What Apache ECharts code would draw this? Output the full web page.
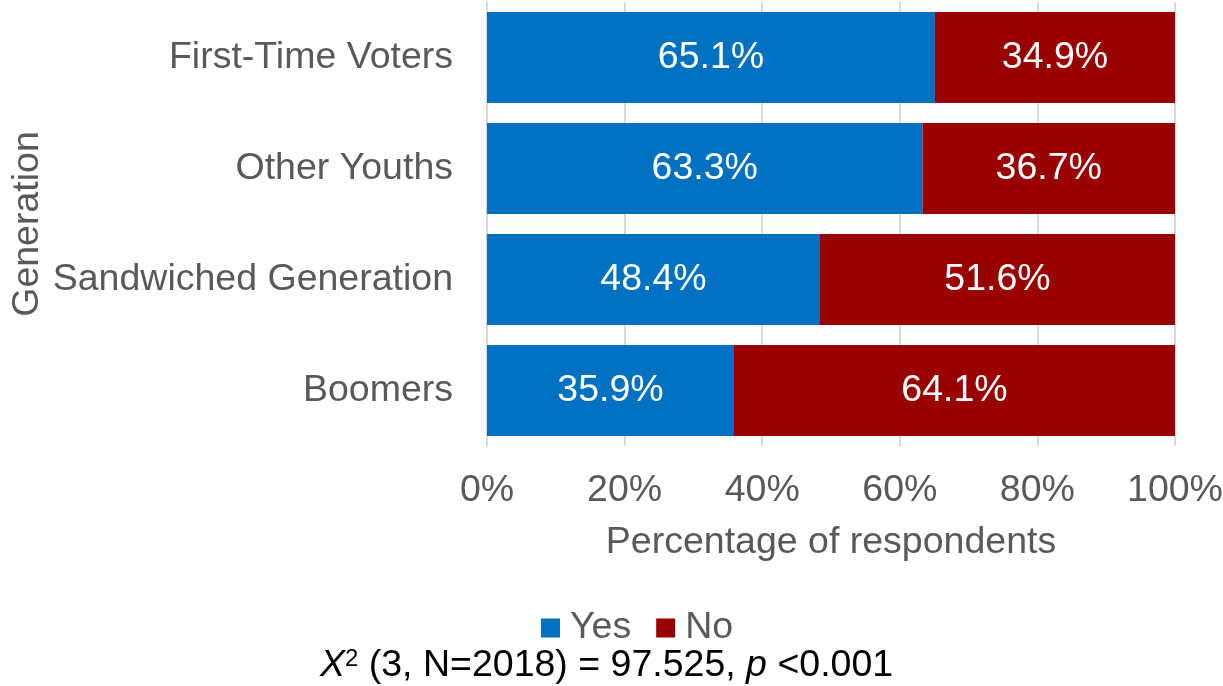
<!DOCTYPE html>
<html><head><meta charset="utf-8">
<script src="https://cdn.jsdelivr.net/npm/echarts@6/dist/echarts.min.js"></script>
<style>html,body{margin:0;padding:0;background:#fff}#c{width:1223px;height:686px}</style>
</head><body><div id="c"></div>
<script>
var categories = ['First-Time Voters', 'Other Youths', 'Sandwiched Generation', 'Boomers'];
var yesValues = [65.1, 63.3, 48.4, 35.9];
var noValues = [34.9, 36.7, 51.6, 64.1];
var xTicks = [0, 20, 40, 60, 80, 100];

var FONT = '"Liberation Sans", Arial, sans-serif';
var GREY = '#595959';
var FS = 37.5;
var chart = echarts.init(document.getElementById('c'));
chart.setOption({
  animation: false,
  textStyle: { fontFamily: FONT },
  grid: { left: 487, right: 48, top: 2, bottom: 240, containLabel: false, outerBoundsMode: 'none' },
  xAxis: {
    type: 'value', min: xTicks[0], max: xTicks[xTicks.length - 1], interval: 20,
    name: 'Percentage of respondents', nameLocation: 'middle', nameGap: 78,
    nameTextStyle: { fontSize: FS, color: GREY, fontFamily: FONT },
    axisLine: { show: false },
    axisTick: { show: false },
    splitLine: { show: true, lineStyle: { color: '#d9d9d9', width: 2 } },
    axisLabel: { formatter: '{value}%', fontSize: FS, color: GREY, margin: 26, fontFamily: FONT }
  },
  yAxis: {
    type: 'category', data: categories, inverse: true,
    name: 'Generation', nameLocation: 'middle', nameGap: 440, nameRotate: 90, nameMoveOverlap: false,
    nameTextStyle: { fontSize: FS, color: GREY, fontFamily: FONT },
    axisLine: { show: true, lineStyle: { color: '#d9d9d9', width: 2 } },
    axisTick: { show: false },
    axisLabel: { fontSize: FS, color: GREY, margin: 34, fontFamily: FONT }
  },
  legend: {
    data: ['Yes', 'No'], top: 604, left: 536,
    itemWidth: 19, itemHeight: 19, itemGap: 25, icon: 'rect',
    textStyle: { fontSize: FS, color: GREY, fontFamily: FONT, padding: [0, 0, 0, 5] }
  },
  title: {
    left: 315, top: 642,
    text: '{i|X}{sup|2}{n| (3, N=2018) = 97.525, }{i|p}{n| <0.001}',
    textStyle: {
      fontWeight: 'normal',
      rich: {
        n: { fontSize: FS, color: '#000', fontFamily: FONT, fontWeight: 'normal' },
        i: { fontSize: FS, color: '#000', fontFamily: FONT, fontStyle: 'italic', fontWeight: 'normal' },
        sup: { fontSize: 24, color: '#000', fontFamily: FONT, fontWeight: 'normal', verticalAlign: 'top', padding: [0, 0, 14, 0] }
      }
    }
  },
  series: [
    { name: 'Yes', type: 'bar', stack: 'a', data: yesValues, barCategoryGap: '18%',
      itemStyle: { color: '#0070C0' },
      label: { show: true, position: 'inside', formatter: function (p) { return p.value.toFixed(1) + '%'; }, fontSize: FS, color: '#fff', fontFamily: FONT } },
    { name: 'No', type: 'bar', stack: 'a', data: noValues, barCategoryGap: '18%',
      itemStyle: { color: '#990000' },
      label: { show: true, position: 'inside', formatter: function (p) { return p.value.toFixed(1) + '%'; }, fontSize: FS, color: '#fff', fontFamily: FONT } }
  ]
});
</script></body></html>
